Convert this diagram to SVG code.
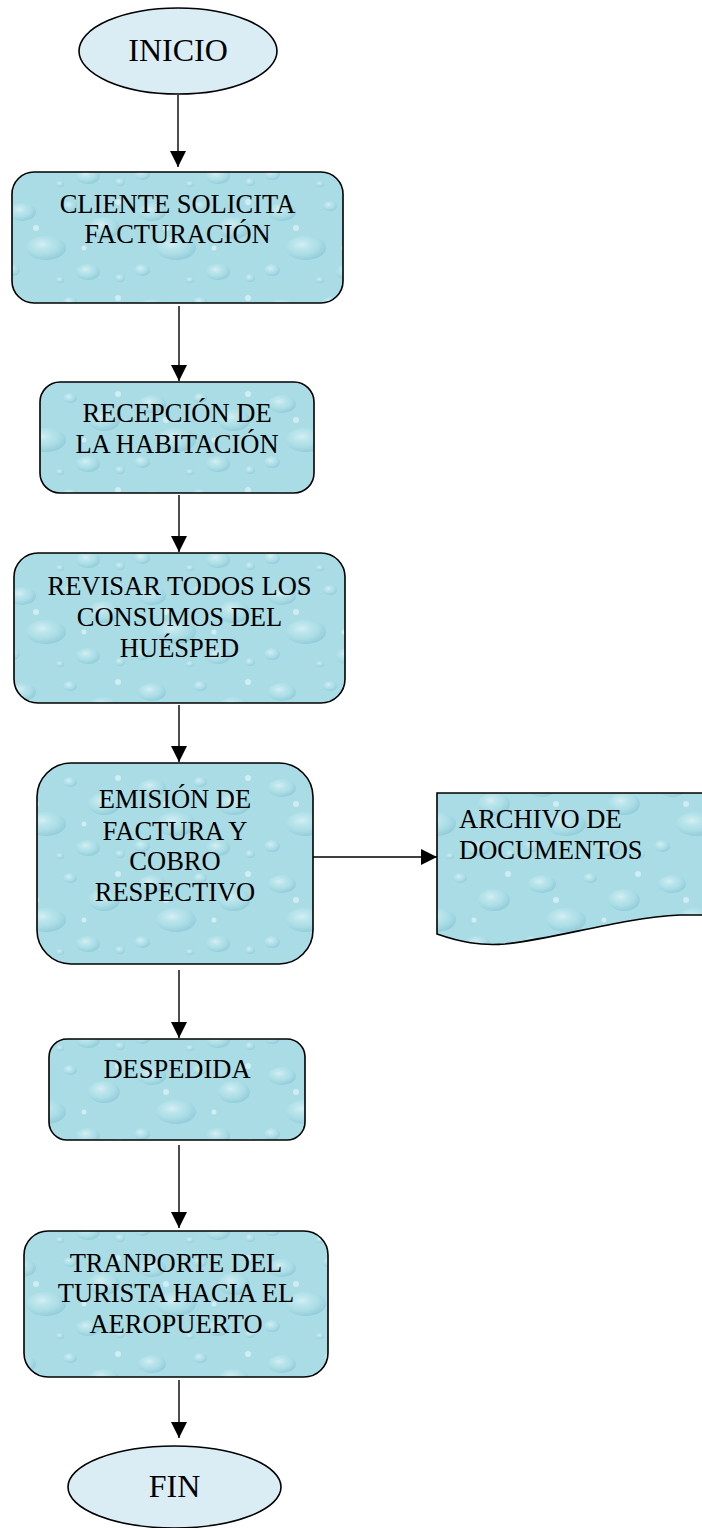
<svg xmlns="http://www.w3.org/2000/svg" width="702" height="1528" viewBox="0 0 702 1528">
<defs>
<radialGradient id="drop" cx="0.4" cy="0.35" r="0.65">
<stop offset="0" stop-color="#def4f7" stop-opacity="0.8"/>
<stop offset="0.6" stop-color="#b4e2ea" stop-opacity="0.4"/>
<stop offset="1" stop-color="#78bccc" stop-opacity="0.45"/>
</radialGradient>
<pattern id="water" patternUnits="userSpaceOnUse" width="130" height="96">
<rect width="130" height="96" fill="#a9dce5"/>
<ellipse cx="22" cy="20" rx="14" ry="9" fill="url(#drop)"/>
<ellipse cx="70" cy="14" rx="7" ry="5" fill="url(#drop)"/>
<ellipse cx="104" cy="36" rx="16" ry="11" fill="url(#drop)"/>
<ellipse cx="46" cy="56" rx="20" ry="12" fill="url(#drop)"/>
<ellipse cx="12" cy="78" rx="8" ry="6" fill="url(#drop)"/>
<ellipse cx="88" cy="80" rx="12" ry="8" fill="url(#drop)"/>
<ellipse cx="120" cy="86" rx="5" ry="4" fill="url(#drop)"/>
<ellipse cx="60" cy="88" rx="4" ry="3" fill="url(#drop)"/>
<circle cx="36" cy="36" r="3" fill="#e8f9fb" opacity="0.6"/>
<circle cx="84" cy="56" r="2.5" fill="#e8f9fb" opacity="0.6"/>
<circle cx="118" cy="10" r="3" fill="#e8f9fb" opacity="0.6"/>
</pattern>
<marker id="arr" markerUnits="userSpaceOnUse" markerWidth="16" markerHeight="16" refX="16" refY="8" orient="auto">
<path d="M0,0 L16,8 L0,16 Z" fill="#000"/>
</marker>
</defs>
<style>
.box{fill:url(#water);stroke:#000;stroke-width:1.6}
.term{fill:#daedf4;stroke:#000;stroke-width:1.6}
.t{font-family:"Liberation Serif","Times New Roman",serif;font-size:26.5px;fill:#000;text-anchor:middle}
.tl{font-family:"Liberation Serif","Times New Roman",serif;font-size:26.5px;fill:#000}
.tt{font-family:"Liberation Serif","Times New Roman",serif;font-size:32px;fill:#000;text-anchor:middle}
.c{stroke:#000;stroke-width:1.4;fill:none;marker-end:url(#arr)}
</style>
<g id="connectors">
<line class="c" x1="178" y1="95" x2="178" y2="167"/>
<line class="c" x1="179" y1="306" x2="179" y2="381"/>
<line class="c" x1="179" y1="495" x2="179" y2="552"/>
<line class="c" x1="179" y1="705" x2="179" y2="762"/>
<line class="c" x1="179" y1="970" x2="179" y2="1038"/>
<line class="c" x1="179" y1="1145" x2="179" y2="1228"/>
<line class="c" x1="179" y1="1380" x2="179" y2="1438"/>
<line class="c" x1="313" y1="857" x2="437" y2="857"/>
</g>
<g id="inicio">
<ellipse class="term" cx="178" cy="51" rx="99" ry="43"/>
<text class="tt" x="178" y="61">INICIO</text>
</g>
<g id="cliente">
<rect class="box" x="12" y="172" width="331" height="131" rx="22"/>
<text class="t" x="177.5" y="213">CLIENTE SOLICITA</text>
<text class="t" x="177.5" y="243">FACTURACIÓN</text>
</g>
<g id="recepcion">
<rect class="box" x="40" y="382" width="274" height="111" rx="20"/>
<text class="t" x="177" y="422">RECEPCIÓN DE</text>
<text class="t" x="177" y="453">LA HABITACIÓN</text>
</g>
<g id="revisar">
<rect class="box" x="14" y="553" width="331" height="150" rx="24"/>
<text class="t" x="179.5" y="595">REVISAR TODOS LOS</text>
<text class="t" x="179.5" y="626">CONSUMOS DEL</text>
<text class="t" x="179.5" y="657">HUÉSPED</text>
</g>
<g id="emision">
<rect class="box" x="37" y="763" width="276" height="201" rx="34"/>
<text class="t" x="175" y="808">EMISIÓN DE</text>
<text class="t" x="175" y="840">FACTURA Y</text>
<text class="t" x="175" y="870">COBRO</text>
<text class="t" x="175" y="901">RESPECTIVO</text>
</g>
<g id="archivo">
<path class="box" d="M437,793 L704,793 L704,915 L680,915 C620,918 560,938 505,944 C480,946 460,942 437,934 Z"/>
<text class="tl" x="459" y="828">ARCHIVO DE</text>
<text class="tl" x="459" y="859">DOCUMENTOS</text>
</g>
<g id="despedida">
<rect class="box" x="49" y="1039" width="256" height="101" rx="18"/>
<text class="t" x="177" y="1078">DESPEDIDA</text>
</g>
<g id="transporte">
<rect class="box" x="24" y="1231" width="304" height="146" rx="24"/>
<text class="t" x="176" y="1272">TRANPORTE DEL</text>
<text class="t" x="176" y="1302">TURISTA HACIA EL</text>
<text class="t" x="176" y="1333">AEROPUERTO</text>
</g>
<g id="fin">
<ellipse class="term" cx="174.5" cy="1487" rx="106.5" ry="41"/>
<text class="tt" x="174.5" y="1497">FIN</text>
</g>
</svg>
